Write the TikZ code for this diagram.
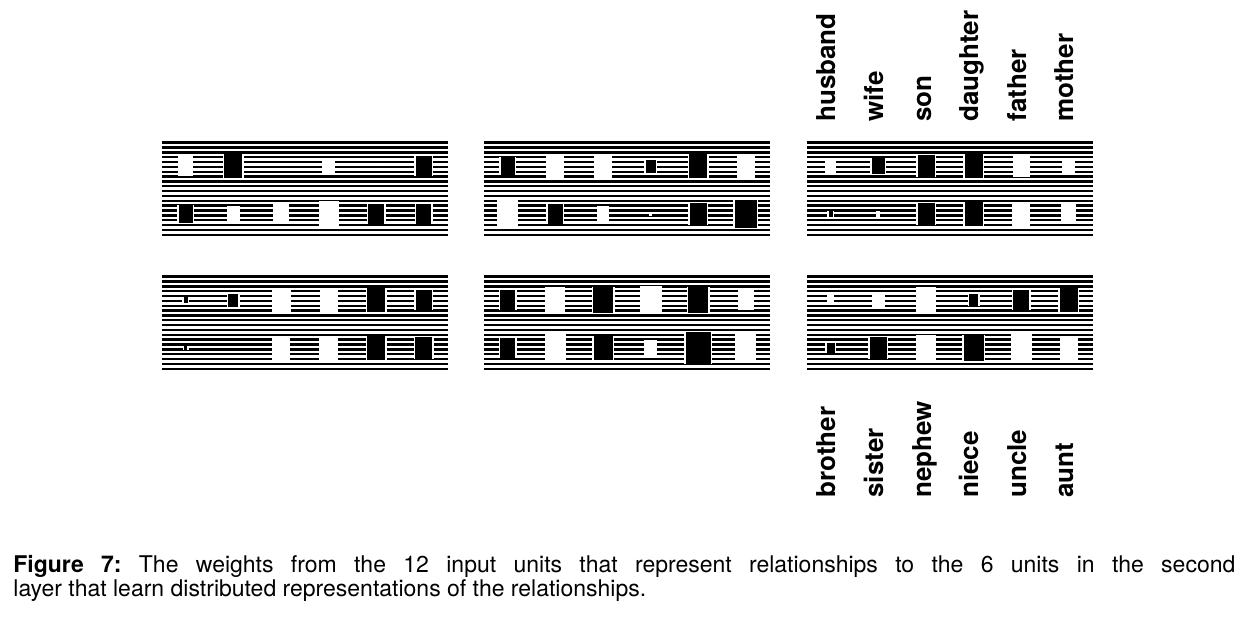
\documentclass[tikz,border=0pt]{standalone}
\usepackage{fontspec}
\setmainfont{TeX Gyre Heros}
\usetikzlibrary{positioning}

\begin{document}
\begin{tikzpicture}[
	x = 0.5pt, y = -0.5pt,
	stripe/.style = {line width=1.2pt, black},
	relname/.style = {rotate=90, anchor=base west, inner sep=0pt, font=\bfseries\fontsize{13}{13}\selectfont},
	every node/.style = {inner sep=0pt}
	]

	\useasboundingbox (0,0) rectangle (1249,623);

	\foreach \bx/\by/\vals in {
		162/142/{15,-18,0,13,0,-16,-14,13,16,20,-16,-15},
		484/142/{-14,18,18,-10,-18,18,21,-15,12,3,-17,-22},
		807/142/{11,-13,-17,-18,17,13,-4,4,-17,-18,18,15},
		162/276/{-4,-10,19,18,-18,-16,-3,0,18,19,-18,-17},
		484/276/{-15,20,-20,22,-20,16,-15,21,-19,13,-25,21},
		807/276/{7,13,20,-9,-16,-18,-8,-17,20,-20,21,18}} {
		\foreach \k in {0,...,19}
			\draw[stripe] (\bx,\by+0.6+4.85*\k) -- (\bx+286,\by+0.6+4.85*\k);
		\foreach \v [count=\i from 0] in \vals {
			\pgfmathsetmacro\cx{\bx+23.8+47.6*mod(\i,6)}
			\pgfmathsetmacro\cy{\by+24+48*int(\i/6)}
			\pgfmathsetmacro\hw{abs(\v)/2}
			\pgfmathsetmacro\hh{0.65*abs(\v)}
			\ifnum\v<0
				\fill[white] (\cx-\hw-1.5,\cy-\hh) rectangle (\cx+\hw+1.5,\cy+\hh);
				\fill[black] (\cx-\hw,\cy-\hh) rectangle (\cx+\hw,\cy+\hh);
			\else
				\fill[white] (\cx-\hw,\cy-\hh) rectangle (\cx+\hw,\cy+\hh);
			\fi
		}
	}

	\foreach \name [count=\i from 0] in {husband,wife,son,daughter,father,mother}
		\node[relname] (top-\name) at (807+23.8+47.6*\i+5,122) {\name};
	\foreach \name [count=\i from 0] in {brother,sister,nephew,niece,uncle,aunt}
		\node[relname] (bot-\name) at (807+23.8+47.6*\i+5,498) {\name};

	\node[anchor=north west, text width=611pt, align=justify, font=\fontsize{11.5}{10.2}\selectfont] (caption) at (13,555)
		{\frenchspacing\tolerance=10000 \textbf{Figure 7:} The weights from the 12 input units that represent relationships to the 6 units in the second\linebreak layer that learn distributed representations of the relationships.};

\end{tikzpicture}
\end{document}
